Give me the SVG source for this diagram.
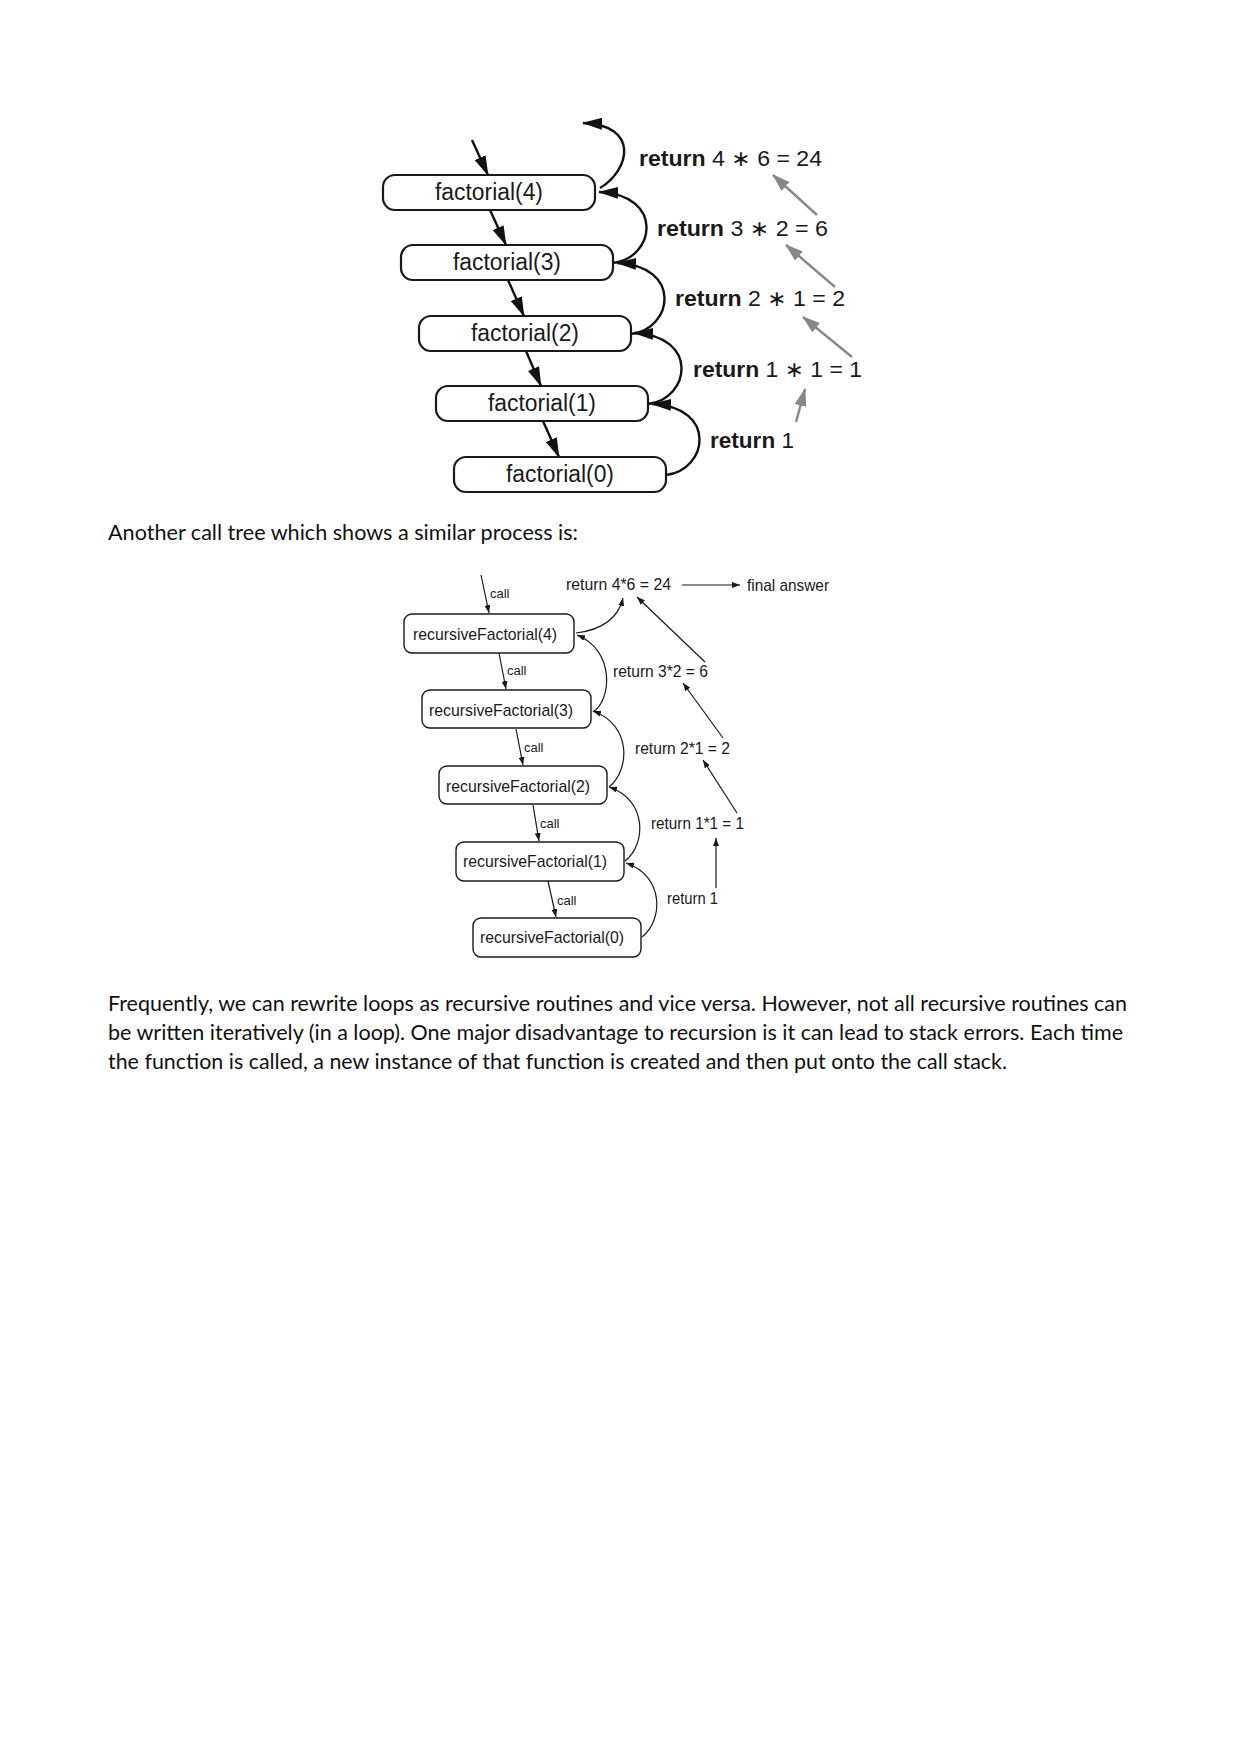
<svg xmlns="http://www.w3.org/2000/svg" width="1241" height="1755" viewBox="0 0 1241 1755">
<style>
.bg{fill:#ffffff}
.box1{fill:#ffffff;stroke:#1a1a1a;stroke-width:2.2}
.box2{fill:#ffffff;stroke:#1a1a1a;stroke-width:1.4}
.t1{font-family:"Liberation Sans",Arial,sans-serif;font-size:23px;fill:#1a1a1a}
.r1{font-family:"Liberation Sans","DejaVu Sans",sans-serif;font-size:22px;fill:#1a1a1a}
.b{font-weight:bold}
.t2{font-family:"Liberation Sans",Arial,sans-serif;font-size:17px;fill:#1a1a1a}
.call{font-family:"Liberation Sans",Arial,sans-serif;font-size:13px;fill:#1a1a1a}
.para{font-family:Lato,"Liberation Sans",sans-serif;font-size:21px;fill:#111}
.c1{fill:none;stroke:#111;stroke-width:2.4}
.g1{fill:none;stroke:#888;stroke-width:2.4}
.c2{fill:none;stroke:#1a1a1a;stroke-width:1.2}
</style>
<defs>
<marker id="ah" viewBox="0 0 20 12" markerWidth="20" markerHeight="12" refX="19" refY="6" orient="auto" markerUnits="userSpaceOnUse"><path d="M0,0 L20,6 L0,12 z" fill="#111"/></marker>
<marker id="ag" viewBox="0 0 18 12" markerWidth="18" markerHeight="12" refX="17" refY="6" orient="auto" markerUnits="userSpaceOnUse"><path d="M0,0 L18,6 L0,12 z" fill="#888"/></marker>
<marker id="as" viewBox="0 0 8 6" markerWidth="8" markerHeight="6" refX="8" refY="3" orient="auto" markerUnits="userSpaceOnUse"><path d="M0,0 L8,3 L0,6 z" fill="#1a1a1a"/></marker>
</defs>
<rect class="bg" x="0" y="0" width="1241" height="1755"/>

<!-- Top diagram nodes -->
<g id="factorial4"><rect class="box1" x="383" y="175" width="212" height="35" rx="12"/><text class="t1" x="489" y="200" text-anchor="middle" textLength="108" lengthAdjust="spacingAndGlyphs">factorial(4)</text></g>
<g id="factorial3"><rect class="box1" x="401" y="245" width="212" height="35" rx="12"/><text class="t1" x="507" y="270" text-anchor="middle" textLength="108" lengthAdjust="spacingAndGlyphs">factorial(3)</text></g>
<g id="factorial2"><rect class="box1" x="419" y="316" width="212" height="35" rx="12"/><text class="t1" x="525" y="341" text-anchor="middle" textLength="108" lengthAdjust="spacingAndGlyphs">factorial(2)</text></g>
<g id="factorial1"><rect class="box1" x="436" y="386" width="212" height="35" rx="12"/><text class="t1" x="542" y="411" text-anchor="middle" textLength="108" lengthAdjust="spacingAndGlyphs">factorial(1)</text></g>
<g id="factorial0"><rect class="box1" x="454" y="457" width="212" height="35" rx="12"/><text class="t1" x="560" y="482" text-anchor="middle" textLength="108" lengthAdjust="spacingAndGlyphs">factorial(0)</text></g>

<g id="top-labels">
<text class="r1" x="639" y="166" textLength="183" lengthAdjust="spacingAndGlyphs"><tspan class="b">return</tspan> 4 ∗ 6 = 24</text>
<text class="r1" x="657" y="236" textLength="171" lengthAdjust="spacingAndGlyphs"><tspan class="b">return</tspan> 3 ∗ 2 = 6</text>
<text class="r1" x="675" y="306" textLength="170" lengthAdjust="spacingAndGlyphs"><tspan class="b">return</tspan> 2 ∗ 1 = 2</text>
<text class="r1" x="693" y="377" textLength="169" lengthAdjust="spacingAndGlyphs"><tspan class="b">return</tspan> 1 ∗ 1 = 1</text>
<text class="r1" x="710" y="448" textLength="84" lengthAdjust="spacingAndGlyphs"><tspan class="b">return</tspan> 1</text>
</g>

<g id="top-connectors">
<line class="c1" x1="472" y1="140" x2="488" y2="175" marker-end="url(#ah)"/>
<line class="c1" x1="490" y1="210" x2="506" y2="245" marker-end="url(#ah)"/>
<line class="c1" x1="508" y1="280" x2="524" y2="316" marker-end="url(#ah)"/>
<line class="c1" x1="526" y1="351" x2="541" y2="386" marker-end="url(#ah)"/>
<line class="c1" x1="543" y1="421" x2="559" y2="457" marker-end="url(#ah)"/>
<path class="c1" d="M600,188 C630,170 640,125 583,123" marker-end="url(#ah)"/>
<path class="c1" d="M613,263 C655,258 665,195 599,192" marker-end="url(#ah)"/>
<path class="c1" d="M631,334 C673,329 683,266 617,263" marker-end="url(#ah)"/>
<path class="c1" d="M648,404 C690,399 700,336 634,333" marker-end="url(#ah)"/>
<path class="c1" d="M666,475 C708,470 718,407 652,404" marker-end="url(#ah)"/>
<line class="g1" x1="817" y1="215" x2="773" y2="175" marker-end="url(#ag)"/>
<line class="g1" x1="835" y1="287" x2="786" y2="245" marker-end="url(#ag)"/>
<line class="g1" x1="852" y1="357" x2="803" y2="317" marker-end="url(#ag)"/>
<line class="g1" x1="796" y1="422" x2="805" y2="389" marker-end="url(#ag)"/>
</g>

<text class="para" x="108" y="540" textLength="470" lengthAdjust="spacingAndGlyphs">Another call tree which shows a similar process is:</text>

<!-- Bottom diagram nodes -->
<g id="recursiveFactorial4"><rect class="box2" x="404" y="614" width="170" height="39" rx="8"/><text class="t2" x="413" y="640" textLength="144" lengthAdjust="spacingAndGlyphs">recursiveFactorial(4)</text></g>
<g id="recursiveFactorial3"><rect class="box2" x="422" y="690" width="169" height="38" rx="8"/><text class="t2" x="429" y="716" textLength="144" lengthAdjust="spacingAndGlyphs">recursiveFactorial(3)</text></g>
<g id="recursiveFactorial2"><rect class="box2" x="439" y="766" width="168" height="38" rx="8"/><text class="t2" x="446" y="792" textLength="144" lengthAdjust="spacingAndGlyphs">recursiveFactorial(2)</text></g>
<g id="recursiveFactorial1"><rect class="box2" x="456" y="842" width="168" height="39" rx="8"/><text class="t2" x="463" y="867" textLength="144" lengthAdjust="spacingAndGlyphs">recursiveFactorial(1)</text></g>
<g id="recursiveFactorial0"><rect class="box2" x="473" y="918" width="168" height="39" rx="8"/><text class="t2" x="480" y="943" textLength="144" lengthAdjust="spacingAndGlyphs">recursiveFactorial(0)</text></g>

<g id="bottom-labels">
<text class="t2" x="566" y="590" textLength="105" lengthAdjust="spacingAndGlyphs">return 4*6 = 24</text>
<text class="t2" x="747" y="591" textLength="82" lengthAdjust="spacingAndGlyphs">final answer</text>
<text class="t2" x="613" y="677" textLength="95" lengthAdjust="spacingAndGlyphs">return 3*2 = 6</text>
<text class="t2" x="635" y="754" textLength="95" lengthAdjust="spacingAndGlyphs">return 2*1 = 2</text>
<text class="t2" x="651" y="829" textLength="93" lengthAdjust="spacingAndGlyphs">return 1*1 = 1</text>
<text class="t2" x="667" y="904" textLength="51" lengthAdjust="spacingAndGlyphs">return 1</text>
<text class="call" x="490" y="598">call</text>
<text class="call" x="507" y="675">call</text>
<text class="call" x="524" y="752">call</text>
<text class="call" x="540" y="828">call</text>
<text class="call" x="557" y="905">call</text>
</g>

<g id="bottom-connectors">
<line class="c2" x1="481" y1="575" x2="489" y2="613" marker-end="url(#as)"/>
<line class="c2" x1="499" y1="653" x2="506" y2="689" marker-end="url(#as)"/>
<line class="c2" x1="516" y1="729" x2="523" y2="765" marker-end="url(#as)"/>
<line class="c2" x1="533" y1="805" x2="539" y2="841" marker-end="url(#as)"/>
<line class="c2" x1="548" y1="881" x2="556" y2="917" marker-end="url(#as)"/>
<path class="c2" d="M576,633 C600,630 618,620 623,598" marker-end="url(#as)"/>
<path class="c2" d="M593,712 C612,700 615,650 577,635" marker-end="url(#as)"/>
<path class="c2" d="M609,787 C630,770 632,725 593,711" marker-end="url(#as)"/>
<path class="c2" d="M625,861 C646,845 648,800 609,787" marker-end="url(#as)"/>
<path class="c2" d="M642,937 C663,921 665,876 626,863" marker-end="url(#as)"/>
<line class="c2" x1="682" y1="585" x2="740" y2="585" marker-end="url(#as)"/>
<line class="c2" x1="705" y1="662" x2="637" y2="597" marker-end="url(#as)"/>
<line class="c2" x1="723" y1="738" x2="683" y2="683" marker-end="url(#as)"/>
<line class="c2" x1="737" y1="813" x2="703" y2="760" marker-end="url(#as)"/>
<line class="c2" x1="716" y1="888" x2="716" y2="838" marker-end="url(#as)"/>
</g>

<g id="paragraph">
<text class="para" x="108" y="1011" textLength="1019" lengthAdjust="spacingAndGlyphs">Frequently, we can rewrite loops as recursive routines and vice versa. However, not all recursive routines can</text>
<text class="para" x="108" y="1040" textLength="1015" lengthAdjust="spacingAndGlyphs">be written iteratively (in a loop). One major disadvantage to recursion is it can lead to stack errors. Each time</text>
<text class="para" x="108" y="1069" textLength="899" lengthAdjust="spacingAndGlyphs">the function is called, a new instance of that function is created and then put onto the call stack.</text>
</g>
</svg>
